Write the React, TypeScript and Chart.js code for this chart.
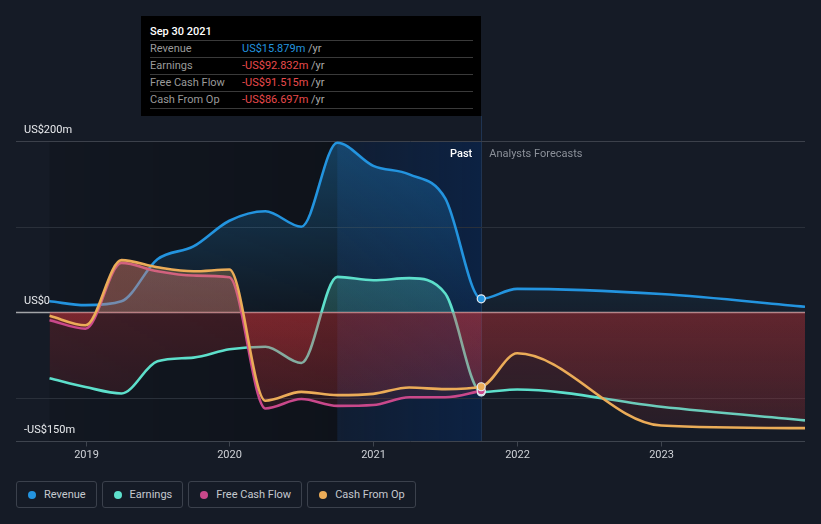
import React, { useEffect, useRef } from "react";
import { Chart, registerables } from "chart.js";
Chart.register(...registerables);

// ---------- data ----------
const pastDates = [2018.75, 2019.0, 2019.25, 2019.5, 2019.75, 2020.0, 2020.25, 2020.5, 2020.75, 2021.0, 2021.25, 2021.5, 2021.75];
const forecastDates = [2022.0, 2023.0, 2024.0];

const revenuePast = [13, 8.5, 13, 62, 77, 107, 118, 100, 198, 171, 161, 133, 15.879];
const revenueForecast = [27.5, 21.5, 6.7];

const earningsPast = [-76.7, -87, -94.5, -57, -52.7, -43, -40, -59, 41.5, 37.6, 40, 22, -92.832];
const earningsForecast = [-90, -110, -126];

const fcfPast = [-9, -19, 57.8, 48, 43, 41, -112, -101, -109, -108, -99, -99, -91.515];

const cfoPast = [-4, -15, 61, 52.7, 48, 50, -103, -92.7, -96.5, -95, -87.6, -89.5, -86.697];
const cfoForecast = [-47.7, -132, -135];

const yearTicks = [2019, 2020, 2021, 2022, 2023];
const yLabelValues = [200, 0, -150];
const yLabelTexts = ["US$200m", "US$0", "-US$150m"];
const gridValues = [200, 100, -100];

const tooltipDate = "Sep 30 2021";
const tooltipLabels = ["Revenue", "Earnings", "Free Cash Flow", "Cash From Op"];
const tooltipValues = ["US$15.879m", "-US$92.832m", "-US$91.515m", "-US$86.697m"];

const seriesNames = ["Revenue", "Earnings", "Free Cash Flow", "Cash From Op"];

// ---------- styles ----------
const BG = "#151b26";
const C_REV = "#2394df";
const C_EARN = "#5ddfcb";
const C_FCF = "#c9488b";
const C_CFO = "#ebac58";
const seriesColors = [C_REV, C_EARN, C_FCF, C_CFO];
const RED = "222,55,60";

const X_MIN = 2018.517;
const X_MAX = 2024.0;
const PAST_START = 2018.75;
const HIGHLIGHT_START = 2020.75;
const NOW = 2021.75;

function pts(xs: number[], ys: number[]) {
  return xs.map((x, i) => ({ x, y: ys[i] }));
}

function hexToRgb(h: string) {
  const n = parseInt(h.slice(1), 16);
  return `${(n >> 16) & 255},${(n >> 8) & 255},${n & 255}`;
}

function makeBg(color: string, aTop: number, aZero: number) {
  const rgb = hexToRgb(color);
  return (ctx: any) => {
    const chart = ctx.chart;
    const area = chart.chartArea;
    if (!area) return `rgba(${rgb},${aZero})`;
    const y0 = chart.scales.y.getPixelForValue(0);
    const z = Math.min(1, Math.max(0, (y0 - area.top) / (area.bottom - area.top)));
    const g = chart.ctx.createLinearGradient(0, area.top, 0, area.bottom);
    g.addColorStop(0, `rgba(${rgb},${aTop})`);
    g.addColorStop(z, `rgba(${rgb},${aZero})`);
    g.addColorStop(Math.min(1, z + 0.0001), `rgba(${RED},0.21)`);
    g.addColorStop(1, `rgba(${RED},0.08)`);
    return g;
  };
}

const nowIndex = pastDates.length - 1;
const pointR = (ctx: any) => (ctx.dataIndex === nowIndex ? 4 : 0);

const bgPlugin = {
  id: "bgPlugin",
  beforeDatasetsDraw(chart: any) {
    const { ctx, chartArea: a, scales } = chart;
    const x = scales.x;
    const y = scales.y;
    const xp = x.getPixelForValue(PAST_START);
    const xh = x.getPixelForValue(HIGHLIGHT_START);
    const xn = x.getPixelForValue(NOW);
    ctx.save();
    // darker past region
    let g = ctx.createLinearGradient(xp, 0, xh, 0);
    g.addColorStop(0, "rgba(0,0,0,0.12)");
    g.addColorStop(1, "rgba(0,0,0,0.3)");
    ctx.fillStyle = g;
    ctx.fillRect(xp, a.top, xh - xp, a.bottom - a.top);
    // highlighted last year
    g = ctx.createLinearGradient(xh, 0, xn, 0);
    g.addColorStop(0, "rgba(0,45,110,0.18)");
    g.addColorStop(1, "rgba(0,45,110,0.4)");
    ctx.fillStyle = g;
    ctx.fillRect(xh, a.top, xn - xh, a.bottom - a.top);
    // vertical now line
    ctx.strokeStyle = "#1f3452";
    ctx.lineWidth = 1;
    ctx.beginPath();
    ctx.moveTo(Math.round(xn) + 0.5, 116);
    ctx.lineTo(Math.round(xn) + 0.5, a.bottom);
    ctx.stroke();
    // grid
    gridValues.forEach((v) => {
      const py = Math.round(y.getPixelForValue(v)) + 0.5;
      ctx.strokeStyle = v === 200 ? "#3c414b" : "#2a303a";
      ctx.beginPath();
      ctx.moveTo(a.left, py);
      ctx.lineTo(a.right, py);
      ctx.stroke();
    });
    // zero line
    const pz = y.getPixelForValue(0);
    ctx.strokeStyle = "#a3a5a8";
    ctx.lineWidth = 1.5;
    ctx.beginPath();
    ctx.moveTo(a.left, pz);
    ctx.lineTo(a.right, pz);
    ctx.stroke();
    ctx.restore();
  },
  afterDraw(chart: any) {
    const { ctx, chartArea: a, scales } = chart;
    const x = scales.x;
    const y = scales.y;
    ctx.save();
    // bottom axis
    const pb = Math.round(a.bottom) + 0.5;
    ctx.strokeStyle = "#3e444e";
    ctx.lineWidth = 1;
    ctx.beginPath();
    ctx.moveTo(a.left, pb);
    ctx.lineTo(a.right, pb);
    ctx.stroke();
    ctx.font = "11px Roboto";
    ctx.textAlign = "center";
    ctx.textBaseline = "alphabetic";
    yearTicks.forEach((t) => {
      const px = Math.round(x.getPixelForValue(t)) + 0.5;
      ctx.beginPath();
      ctx.moveTo(px, pb);
      ctx.lineTo(px, pb + 5);
      ctx.stroke();
      ctx.fillStyle = "#cfd2d7";
      ctx.fillText(String(t), px, a.bottom + 17);
    });
    // y labels
    ctx.textAlign = "left";
    ctx.fillStyle = "#e8eaed";
    yLabelValues.forEach((v, i) => {
      ctx.fillText(yLabelTexts[i], 24, y.getPixelForValue(v) - 8);
    });
    // Past / Analysts Forecasts
    const xn = x.getPixelForValue(NOW);
    const ty = a.top + 16;
    ctx.textAlign = "right";
    ctx.fillStyle = "#ffffff";
    ctx.font = "500 11px Roboto";
    ctx.fillText("Past", xn - 9, ty);
    ctx.textAlign = "left";
    ctx.fillStyle = "#8b9099";
    ctx.font = "11px Roboto";
    ctx.fillText("Analysts Forecasts", xn + 8, ty);
    ctx.restore();
  },
};

function lineDs(label: string, data: any[], color: string, order: number, aTop: number, aZero: number) {
  return {
    label,
    data,
    borderColor: color,
    borderWidth: 2.6,
    backgroundColor: makeBg(color, aTop, aZero),
    fill: "origin",
    cubicInterpolationMode: "monotone" as const,
    pointRadius: pointR,
    pointHoverRadius: pointR,
    pointBackgroundColor: color,
    pointBorderColor: "#e6ebf2",
    pointBorderWidth: 1.2,
    order,
  };
}

export default function App() {
  const ref = useRef<HTMLCanvasElement>(null);
  useEffect(() => {
    document.body.style.margin = "0";
    document.body.style.background = BG;
    const canvas = ref.current!;
    const chart = new Chart(canvas, {
      type: "line",
      data: {
        datasets: [
          lineDs("Revenue", [...pts(pastDates, revenuePast), ...pts(forecastDates, revenueForecast)], C_REV, 4, 0.34, 0.04),
          lineDs("Earnings", [...pts(pastDates, earningsPast), ...pts(forecastDates, earningsForecast)], C_EARN, 3, 0.35, 0.22),
          lineDs("Free Cash Flow", pts(pastDates, fcfPast), C_FCF, 2, 0.3, 0.24),
          lineDs("Cash From Op", [...pts(pastDates, cfoPast), ...pts(forecastDates, cfoForecast)], C_CFO, 1, 0.3, 0.24),
        ] as any,
      },
      options: {
        responsive: false,
        devicePixelRatio: 1,
        animation: false,
        events: [],
        layout: { padding: { left: 16, right: 16, top: 141, bottom: 29 } },
        scales: {
          x: { type: "linear", min: X_MIN, max: X_MAX, display: false },
          y: { min: -150, max: 200, display: false },
        },
        plugins: { legend: { display: false }, tooltip: { enabled: false } },
      },
      plugins: [bgPlugin],
    } as any);
    return () => chart.destroy();
  }, []);

  const sepTops = [24, 41, 58, 75];

  return (
    <div style={{ position: "relative", width: 821, height: 524, background: BG, overflow: "hidden", fontFamily: "Roboto, sans-serif" }}>
      <canvas ref={ref} width={821} height={470} style={{ position: "absolute", left: 0, top: 0, width: 821, height: 470 }} />
      <div style={{ position: "absolute", left: 141, top: 16, width: 340, height: 100, background: "#000" }}>
        <div style={{ position: "absolute", left: 9, top: 7, fontSize: 11, lineHeight: "17px", color: "#fff", fontWeight: 500 }}>{tooltipDate}</div>
        {tooltipLabels.map((l, i) => (
          <div
            key={l}
            style={{
              position: "absolute",
              left: 9,
              top: sepTops[i],
              width: 323,
              height: 16,
              borderTop: "1px solid #3a3a3a",
              borderBottom: i === tooltipLabels.length - 1 ? "1px solid #3a3a3a" : "none",
              fontSize: 11,
              lineHeight: "16px",
              whiteSpace: "nowrap",
            }}
          >
            <span style={{ position: "absolute", left: 0, top: 0, color: "#9a9a9a" }}>{l}</span>
            <span style={{ position: "absolute", left: 92, top: 0 }}>
              <span style={{ color: i === 0 ? C_REV : "#e84a4c" }}>{tooltipValues[i]}</span>
              <span style={{ color: "#aaaaaa" }}> /yr</span>
            </span>
          </div>
        ))}
      </div>
      <div style={{ position: "absolute", left: 16, top: 481, display: "flex", gap: 5 }}>
        {seriesNames.map((n, i) => (
          <div
            key={n}
            style={{
              height: 25,
              border: "1px solid #3b414c",
              borderRadius: 3,
              display: "flex",
              alignItems: "center",
              padding: "0 10px 0 11px",
              fontSize: 11,
              color: "#c5c9cf",
              whiteSpace: "nowrap",
            }}
          >
            <span style={{ width: 8, height: 8, borderRadius: 4, background: seriesColors[i], marginRight: 8, display: "inline-block" }} />
            {n}
          </div>
        ))}
      </div>
    </div>
  );
}
